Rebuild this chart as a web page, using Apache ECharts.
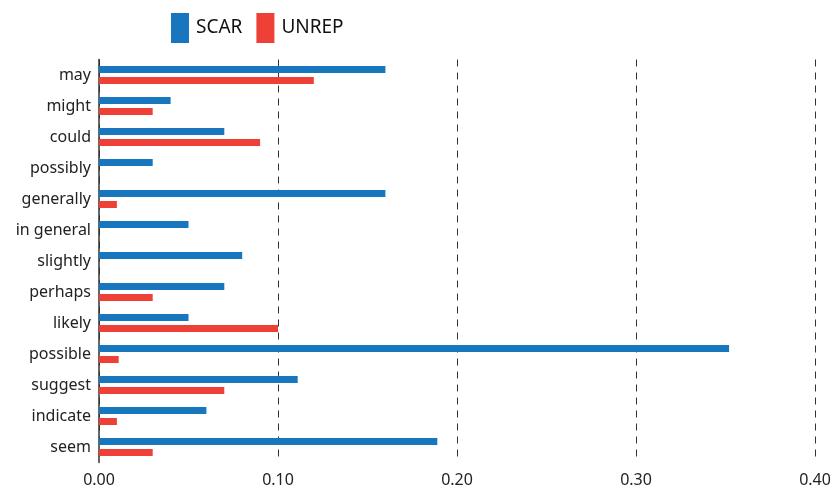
<!DOCTYPE html>
<html><head><meta charset="utf-8">
<script src="https://cdn.jsdelivr.net/npm/echarts@6/dist/echarts.min.js"></script>
<style>html,body{margin:0;padding:0;background:#fff}#c{width:835px;height:495px}</style>
</head><body><div id="c"></div>
<script>
var categories = ["may","might","could","possibly","generally","in general","slightly","perhaps","likely","possible","suggest","indicate","seem"];
var scar  = [0.16,0.04,0.07,0.03,0.16,0.05,0.08,0.07,0.05,0.352,0.111,0.06,0.189];
var unrep = [0.12,0.03,0.09,0,0.01,0,0,0.03,0.10,0.011,0.07,0.01,0.03];
var xTicks = [0, 0.1, 0.2, 0.3, 0.4];

var font = '"Noto Sans", sans-serif';
var chart = echarts.init(document.getElementById('c'));
chart.setOption({
  animation: false,
  legend: {
    left: 166, top: 8,
    itemWidth: 18, itemHeight: 30, itemGap: 14,
    icon: 'rect',
    textStyle: { fontSize: 19, color: '#111', fontFamily: font, padding: [0, 0, 0, 2] },
    data: ['SCAR', 'UNREP']
  },
  grid: { left: 99, right: 20, top: 59.5, bottom: 32.5, containLabel: false },
  xAxis: {
    type: 'value', min: xTicks[0], max: xTicks[xTicks.length-1], interval: 0.1,
    axisLine: { show: false }, axisTick: { show: false },
    axisLabel: { fontSize: 16, color: '#222', fontFamily: font, margin: 10,
      formatter: function (v) { return v.toFixed(2); } },
    splitLine: { show: true, lineStyle: { type: [7, 6], color: '#333', width: 1 } }
  },
  yAxis: {
    type: 'category', inverse: true, data: categories,
    axisLine: { show: true, lineStyle: { color: '#333', width: 1.5 } },
    axisTick: { show: false },
    axisLabel: { fontSize: 16, color: '#222', fontFamily: font, margin: 8 }
  },
  series: [
    { name: 'SCAR', type: 'bar', data: scar, barWidth: 7, barGap: '57%',
      itemStyle: { color: '#1776BE' } },
    { name: 'UNREP', type: 'bar', data: unrep, barWidth: 7,
      itemStyle: { color: '#EE4036' } }
  ]
});
</script></body></html>
